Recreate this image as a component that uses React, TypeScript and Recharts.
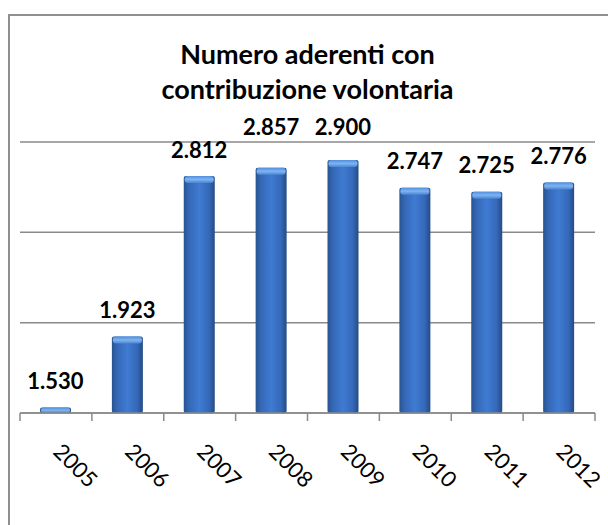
import { BarChart, Bar, XAxis, YAxis, CartesianGrid, LabelList } from 'recharts';

const years = ['2005', '2006', '2007', '2008', '2009', '2010', '2011', '2012'];
const members = [1530, 1923, 2812, 2857, 2900, 2747, 2725, 2776];
const yTicks = [1500, 2000, 2500, 3000];

const data = years.map((year, i) => ({ year, members: members[i] }));

const W = 600;
const H = 509;
const M = { top: 126, right: 15, left: 10, bottom: 52 };
const BAND = (W - M.left - M.right) / years.length;
const TICK = 8;
const FONT = 'Lato, "Open Sans", sans-serif';

const fmt = (v: number) => String(v).replace(/\B(?=(\d{3})+(?!\d))/g, '.');

function BarShape(props: any) {
  const { x, y, width, height } = props;
  if (!height || height <= 0) return null;
  const cap = Math.min(7, height);
  return (
    <g>
      <rect x={x} y={y} width={width} height={height} fill="url(#barGrad)" rx={2} />
      <rect x={x + 1} y={y} width={width - 2} height={cap} fill="url(#capGrad)" rx={3} />
    </g>
  );
}

function YearTick(props: any) {
  const { x, y, payload, index } = props;
  const axisY = y - TICK;
  const tx = x - 4;
  const ty = axisY + 40;
  return (
    <g>
      <line x1={x - BAND / 2} x2={x - BAND / 2} y1={axisY} y2={axisY + TICK} stroke="#8a8a8a" strokeWidth={1.5} />
      {index === years.length - 1 && (
        <line x1={x + BAND / 2} x2={x + BAND / 2} y1={axisY} y2={axisY + TICK} stroke="#8a8a8a" strokeWidth={1.5} />
      )}
      <text x={tx} y={ty} transform={`rotate(45, ${tx}, ${ty})`} textAnchor="start" fontSize={22} fill="#000" fontFamily={FONT}>
        {payload.value}
      </text>
    </g>
  );
}

function ValueLabel(props: any) {
  const { x, y, width, value } = props;
  let cy = y - 26;
  // lift labels that would sit on the top gridline
  if (cy < M.top + 5 && cy > M.top - 20) cy = M.top - 15;
  return (
    <text x={x + width / 2} y={cy} dy="0.35em" textAnchor="middle" fontSize={22} fontWeight={700} fill="#000" fontFamily={FONT}>
      {fmt(value)}
    </text>
  );
}

export default function App() {
  return (
    <div
      style={{
        position: 'absolute',
        left: 8,
        top: 14,
        width: W,
        height: 511,
        borderTop: '2px solid #8f8f8f',
        borderLeft: '2px solid #8f8f8f',
        background: '#fff',
        boxSizing: 'border-box',
      }}
    >
      <div
        style={{
          position: 'absolute',
          left: M.left,
          width: W - M.left - M.right,
          top: 20,
          textAlign: 'center',
          fontFamily: FONT,
          fontWeight: 700,
          fontSize: 27,
          lineHeight: '35px',
          color: '#000',
        }}
      >
        Numero aderenti con
        <br />
        contribuzione volontaria
      </div>
      <BarChart width={W} height={H} data={data} margin={M}>
        <defs>
          <linearGradient id="barGrad" x1="0" y1="0" x2="1" y2="0">
            <stop offset="0%" stopColor="#28548f" />
            <stop offset="18%" stopColor="#3568b8" />
            <stop offset="50%" stopColor="#3f7bd2" />
            <stop offset="82%" stopColor="#3568b8" />
            <stop offset="100%" stopColor="#244b85" />
          </linearGradient>
          <linearGradient id="capGrad" x1="0" y1="0" x2="0" y2="1">
            <stop offset="0%" stopColor="#4f8fe0" />
            <stop offset="50%" stopColor="#80b4ee" />
            <stop offset="100%" stopColor="#4a84d4" />
          </linearGradient>
        </defs>
        <CartesianGrid vertical={false} stroke="#8a8a8a" strokeWidth={1.5} />
        <XAxis
          dataKey="year"
          interval={0}
          height={60}
          tickSize={TICK}
          tickMargin={0}
          tickLine={false}
          axisLine={{ stroke: '#8a8a8a', strokeWidth: 1.5 }}
          tick={<YearTick />}
        />
        <YAxis hide domain={[1500, 3000]} ticks={yTicks} />
        <Bar dataKey="members" barSize={31} shape={<BarShape />} isAnimationActive={false}>
          <LabelList dataKey="members" content={<ValueLabel />} />
        </Bar>
      </BarChart>
    </div>
  );
}
